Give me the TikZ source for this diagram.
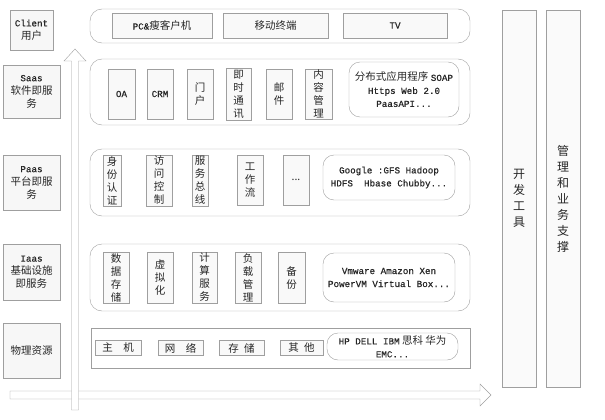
\documentclass[tikz,border=0pt]{standalone}
\usepackage{fontspec}
\setmainfont{Noto Sans CJK SC}
\newfontfamily\mono[Scale=0.88, FakeBold=0.6]{Liberation Mono}
\usepackage{tikz}
\usetikzlibrary{positioning}

\begin{document}
\begin{tikzpicture}[
      x=1pt, y=-1pt,
      font=\fontsize{10.5}{13}\selectfont,
      lbl/.style={draw=gray!75, fill=gray!6, align=center, inner sep=1pt,
        text=black!85},
      layer/.style={draw=gray!75, rounded corners=12pt, inner sep=0pt},
      cell/.style={draw=gray!75, fill=gray!5, align=center, inner sep=1pt,
        minimum height=51pt, text=black!85},
      flat/.style={draw=gray!75, fill=gray!5, inner sep=1pt,
        minimum height=15pt, text=black!85},
      vendor/.style={draw=gray!75, rounded corners=11pt, align=center,
        inner sep=1pt, text=black!85},
      col/.style={draw=gray!75, fill=gray!4, minimum width=34pt,
        minimum height=377pt, align=center, inner sep=1pt, text=black!85,
        font=\fontsize{12}{16}\selectfont},
      blk/.style={draw=gray!75, fill=white}
    ]
    \path[use as bounding box] (0,0) rectangle (605,420);

    % levels on the left
    \node[lbl, minimum width=43pt, minimum height=40pt] (client) at (31.5,30)
      {{\mono Client}\\用户};
    \node[lbl, minimum width=57pt, minimum height=53pt] (saas) at (31.5,91.5)
      {{\mono Saas}\\软件即服\\务};
    \node[lbl, minimum width=57pt, minimum height=55pt] (paas) at (31.5,182.5)
      {{\mono Paas}\\平台即服\\务};
    \node[lbl, minimum width=57pt, minimum height=56pt] (iaas) at (31.5,272)
      {{\mono Iaas}\\基础设施\\即服务};
    \node[lbl, minimum width=57pt, minimum height=55pt] (phys) at (31.5,350.5)
      {物理资源};

    % block arrows
    \draw[blk] (10,391) -- (480,391) -- (480,384) -- (491,395) -- (480,406)
      -- (480,399) -- (10,399) -- cycle;
    \draw[blk] (71.5,410) -- (71.5,61) -- (64,61) -- (75,49) -- (86,61)
      -- (78.5,61) -- (78.5,410) -- cycle;

    % layers
    \node[layer, minimum width=380pt, minimum height=34pt] (rowclient) at (280,26) {};
    \node[layer, minimum width=380pt, minimum height=66pt] (rowsaas) at (280,92) {};
    \node[layer, minimum width=380pt, minimum height=67pt] (rowpaas) at (280,182.5) {};
    \node[layer, minimum width=380pt, minimum height=67pt] (rowiaas) at (280,277.5) {};
    \node[layer, rounded corners=0pt, minimum width=379pt, minimum height=40pt]
      (rowphys) at (280.5,348) {};

    % client
    \node[flat, minimum width=100pt, minimum height=25pt] (pc) at (162,25.5)
      {{\mono PC\&}瘦客户机};
    \node[flat, minimum width=105pt, minimum height=25pt] (mobile) at (275.5,25.5)
      {移动终端};
    \node[flat, minimum width=104pt, minimum height=25pt] (tv) at (395,25.5)
      {{\mono TV}};

    % saas
    \node[cell, minimum width=27pt, minimum height=50pt] (oa) at (121.5,94) {{\mono OA}};
    \node[cell, minimum width=26pt, minimum height=50pt] (crm) at (160,94) {{\mono CRM}};
    \node[cell, minimum width=26pt, minimum height=50pt] (portal) at (200,94) {门\\户};
    \node[cell, minimum width=25pt, minimum height=52pt] (im) at (238.5,94)
      {即\\时\\通\\讯};
    \node[cell, minimum width=26pt, minimum height=50pt] (mail) at (279,94) {邮\\件};
    \node[cell, minimum width=27pt, minimum height=50pt] (cms) at (318.5,94)
      {内\\容\\管\\理};
    \node[vendor, minimum width=110pt, minimum height=55pt] (saasv) at (404,89.5)
      {分布式应用程序 {\mono SOAP}\\{\mono Https Web 2.0}\\{\mono PaasAPI...}};

    % paas
    \node[cell, minimum width=18pt] (auth) at (112,180.5) {身\\份\\认\\证};
    \node[cell, minimum width=26pt] (access) at (159,180.5) {访\\问\\控\\制};
    \node[cell, minimum width=16pt] (bus) at (200,180.5) {服\\务\\总\\线};
    \node[cell, minimum width=26pt, minimum height=50pt] (flow) at (250,180)
      {工\\作\\流};
    \node[cell, minimum width=26pt, minimum height=50pt] (more) at (296,180) {...};
    \node[vendor, minimum width=132pt, minimum height=45pt] (paasv) at (389,177.5)
      {{\mono Google :GFS Hadoop}\\{\mono HDFS\ \ Hbase Chubby...}};

    % iaas
    \node[cell, minimum width=26pt] (store) at (116,277.5) {数\\据\\存\\储};
    \node[cell, minimum width=26pt] (virt) at (160,277.5) {虚\\拟\\化};
    \node[cell, minimum width=25pt] (comp) at (204.5,277.5) {计\\算\\服\\务};
    \node[cell, minimum width=26pt] (load) at (248,277.5) {负\\载\\管\\理};
    \node[cell, minimum width=27pt] (backup) at (291.5,277.5) {备\\份};
    \node[vendor, minimum width=132pt, minimum height=49pt] (iaasv) at (389,277.5)
      {{\mono Vmware Amazon Xen}\\{\mono PowerVM Virtual Box...}};

    % physical
    \node[flat, minimum width=46pt] (host) at (118,348) {主\quad 机};
    \node[flat, minimum width=45pt] (net) at (180.5,348) {网\quad 络};
    \node[flat, minimum width=45pt] (disk) at (241.5,348) {存\enspace 储};
    \node[flat, minimum width=43pt] (other) at (301.5,348) {其\enspace 他};
    \node[vendor, minimum width=131pt, minimum height=27pt] (physv) at (392.5,346.5)
      {{\mono HP DELL IBM} 思科 华为\\{\mono EMC...}};

    % right columns
    \node[col] (devtools) at (519,198.5) {开\\发\\工\\具};
    \node[col] (mgmt) at (563,198.5) {管\\理\\和\\业\\务\\支\\撑};
  \end{tikzpicture}
\end{document}
